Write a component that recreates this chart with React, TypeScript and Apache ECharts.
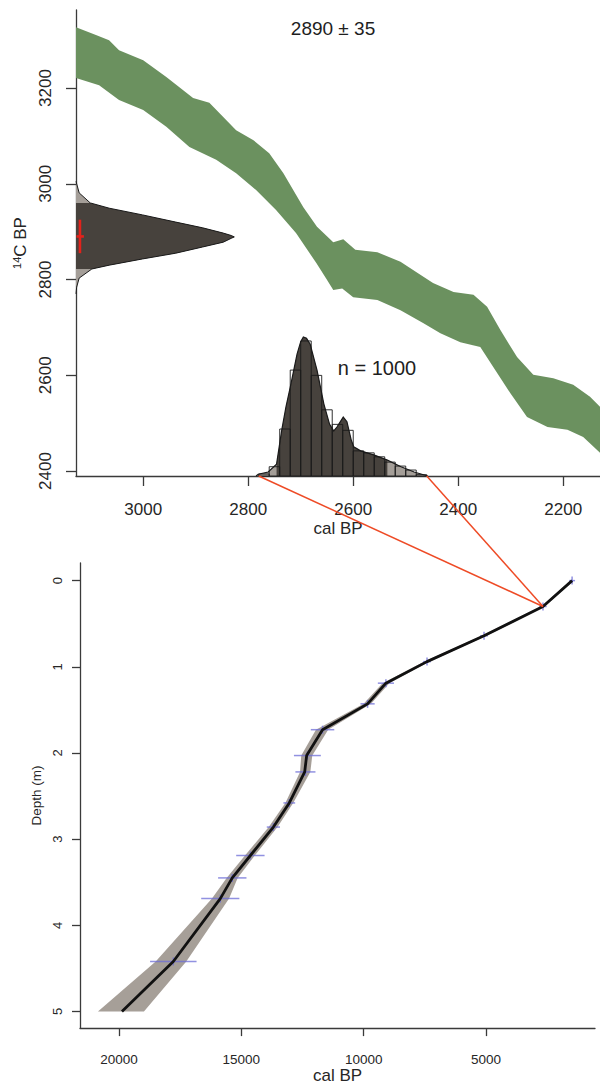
import React, { useEffect, useRef } from 'react';
import * as echarts from 'echarts';

// ---------- top panel: calibration ----------
const titleText = '2890 ± 35';
const nText = 'n = 1000';
const c14Mean = 2890;
const c14Sd = 35;

// calibration curve band: upper edge and lower edge (cal BP, 14C BP)
const upperCal = [3128, 3090, 3065, 3046, 3000, 2956, 2905, 2874, 2823, 2790, 2760, 2733, 2695, 2669, 2638, 2619, 2596, 2554, 2510, 2478, 2448, 2409, 2371, 2345, 2320, 2288, 2257, 2219, 2181, 2149, 2130];
const upperC14 = [3327, 3311, 3300, 3279, 3258, 3223, 3179, 3169, 3112, 3091, 3064, 3022, 2951, 2910, 2878, 2884, 2862, 2857, 2837, 2814, 2793, 2774, 2768, 2743, 2695, 2638, 2601, 2594, 2580, 2555, 2534];
const lowerCal = [3128, 3084, 3046, 3000, 2956, 2912, 2861, 2823, 2785, 2747, 2709, 2670, 2651, 2638, 2621, 2600, 2554, 2510, 2467, 2434, 2396, 2358, 2333, 2301, 2269, 2230, 2192, 2162, 2130];
const lowerC14 = [3221, 3206, 3175, 3154, 3119, 3077, 3050, 3022, 2987, 2945, 2897, 2834, 2801, 2778, 2781, 2763, 2757, 2736, 2709, 2688, 2669, 2659, 2617, 2563, 2513, 2492, 2486, 2471, 2438];

// 14C date density (14C BP, relative density)
const c14Age = [3005, 2981, 2960, 2949, 2935, 2920, 2908, 2897, 2892, 2889, 2886, 2878, 2868, 2855, 2843, 2830, 2822, 2803, 2784, 2770];
const c14Dens = [0, 0.02, 0.09, 0.21, 0.42, 0.63, 0.8, 0.93, 0.98, 1.0, 0.98, 0.93, 0.8, 0.63, 0.42, 0.21, 0.1, 0.02, 0.004, 0];
const c14DarkRange = [2822, 2960];

// calibrated histogram (bin older edge, counts), bin width 20 yr
const histBins = [2780, 2760, 2740, 2720, 2700, 2680, 2660, 2640, 2620, 2600, 2580, 2560, 2540, 2520, 2500, 2480];
const histCounts = [3, 14, 71, 160, 204, 152, 100, 78, 69, 38, 35, 29, 21, 15, 9, 2];
const histBinWidth = 20;

// smoothed calibrated density (cal BP, count scale)
const calDensAge = [2785, 2781, 2762, 2746, 2736, 2728, 2720, 2707, 2700, 2695, 2689, 2682, 2669, 2656, 2645, 2637, 2631, 2619, 2612, 2604, 2599, 2586, 2561, 2535, 2509, 2484, 2458];
const calDensVal = [0, 2.6, 6, 18, 70, 105, 134, 184, 203, 210, 208, 199, 160, 109, 78, 68, 74, 89, 82, 55, 44, 38, 32, 24, 14, 6, 0];
const calDarkRange = [2535, 2746];

// ---------- bottom panel: age-depth model ----------
const dateDepth = [0, 0.3, 0.64, 0.94, 1.19, 1.43, 1.73, 2.03, 2.22, 2.58, 2.86, 3.19, 3.45, 3.69, 4.42];
const dateCal = [1480, 2670, 5080, 7410, 9090, 9840, 11680, 12300, 12380, 13040, 13690, 14630, 15370, 15860, 17780];
const dateErr = [120, 150, 160, 160, 330, 290, 480, 550, 410, 240, 270, 580, 580, 780, 950];

const modelDepth = [0, 0.3, 0.64, 0.94, 1.19, 1.43, 1.73, 2.03, 2.22, 2.58, 2.86, 3.19, 3.45, 3.69, 4.42, 5.0];
const modelCal = [1480, 2670, 5080, 7410, 9090, 9840, 11680, 12330, 12410, 13040, 13690, 14630, 15370, 15860, 17780, 19880];
const modelYoung = [1420, 2600, 4980, 7300, 8950, 9700, 11450, 12100, 12180, 12880, 13520, 14450, 15150, 15500, 17250, 18980];
const modelOld = [1540, 2740, 5180, 7520, 9230, 10000, 11950, 12550, 12600, 13200, 13880, 14850, 15600, 16200, 18500, 20860];

// tick values
const topXTicks = [3000, 2800, 2600, 2400, 2200];
const topYTicks = [2400, 2600, 2800, 3000, 3200];
const botXTicks = [20000, 15000, 10000, 5000];
const botYTicks = [0, 1, 2, 3, 4, 5];

// axis ranges
const topXRange = [2130, 3128];
const topYRange = [2389.6, 3363];
const histMax = 704;
const c14DensMax = 3.31;
const botXRange = [544, 21594];
const botYRange = [-0.2045, 5.193];

const FONT = 'Liberation Sans, Arial, Helvetica, sans-serif';
const TXT = '#262626';
const AX = '#3a3a3a';

function polygonSeries(xi: number, yi: number, pts: number[][], fill: string) {
  return {
    type: 'custom', xAxisIndex: xi, yAxisIndex: yi, silent: true,
    data: [pts[0]],
    renderItem: (_p: any, api: any) => ({
      type: 'polygon',
      shape: { points: pts.map((p) => api.coord(p)) },
      style: { fill, stroke: 'none' },
    }),
  };
}
function polylineSeries(xi: number, yi: number, pts: number[][], stroke: string, lineWidth: number) {
  return {
    type: 'custom', xAxisIndex: xi, yAxisIndex: yi, silent: true,
    data: [pts[0]],
    renderItem: (_p: any, api: any) => ({
      type: 'polyline',
      shape: { points: pts.map((p) => api.coord(p)) },
      style: { fill: 'none', stroke, lineWidth },
    }),
  };
}

function axisCommon(fontSize: number, tickLen: number, ticks: number[], margin: number, rotate = 0) {
  return {
    splitLine: { show: false },
    axisLine: { show: true, onZero: false, lineStyle: { color: AX, width: 1.3 } },
    axisTick: { show: true, length: tickLen, customValues: ticks, lineStyle: { color: AX, width: 1.3 } },
    axisLabel: {
      customValues: ticks, fontSize, margin, rotate, color: TXT, fontFamily: FONT,
      formatter: (v: number) => String(v),
    },
  };
}

export default function App() {
  const ref = useRef<HTMLDivElement>(null);
  useEffect(() => {
    if (!ref.current) return;
    const chart = echarts.init(ref.current, undefined, { renderer: 'svg' });

    const bandPts = [
      ...upperCal.map((c, i) => [c, upperC14[i]]),
      ...lowerCal.map((c, i) => [c, lowerC14[i]]).reverse(),
    ];
    const c14Pts = c14Age.map((a, i) => [c14Dens[i], a]);
    const c14Dark = c14Pts.filter((p) => p[1] >= c14DarkRange[0] && p[1] <= c14DarkRange[1]);
    const c14DarkPts = [[0, c14Dark[0][1]], ...c14Dark, [0, c14Dark[c14Dark.length - 1][1]]];
    const calPts = calDensAge.map((a, i) => [a, calDensVal[i]]);
    const calDark = calPts.filter((p) => p[0] >= calDarkRange[0] && p[0] <= calDarkRange[1]);
    const calDarkPts = [[calDark[0][0], 0], ...calDark, [calDark[calDark.length - 1][0], 0]];
    const envPts = [
      ...modelDepth.map((d, i) => [modelYoung[i], d]),
      ...modelDepth.map((d, i) => [modelOld[i], d]).reverse(),
    ];

    const option: any = {
      animation: false,
      grid: [
        { left: 76, top: 10, width: 524, height: 466 },
        { left: 80, top: 563, width: 515, height: 475 },
      ],
      xAxis: [
        {
          gridIndex: 0, type: 'value', inverse: true, min: topXRange[0], max: topXRange[1],
          ...axisCommon(17, 10, topXTicks, 25),
          name: 'cal BP', nameLocation: 'middle', nameGap: 44,
          nameTextStyle: { fontSize: 17, color: TXT, fontFamily: FONT },
        },
        { gridIndex: 0, type: 'value', min: 0, max: c14DensMax, show: false },
        {
          gridIndex: 1, type: 'value', inverse: true, min: botXRange[0], max: botXRange[1],
          ...axisCommon(13.5, 8, botXTicks, 24),
          name: 'cal BP', nameLocation: 'middle', nameGap: 35,
          nameTextStyle: { fontSize: 17, color: TXT, fontFamily: FONT },
        },
      ],
      yAxis: [
        {
          gridIndex: 0, type: 'value', min: topYRange[0], max: topYRange[1],
          ...axisCommon(17, 10, topYTicks, 22, 90),
          name: '{sup|14}C BP', nameLocation: 'middle', nameGap: 37, nameRotate: 90,
          nameTextStyle: {
            fontSize: 17, color: TXT, fontFamily: FONT,
            rich: { sup: { fontSize: 11, color: TXT, fontFamily: FONT, verticalAlign: 'top', padding: [0, 0, 7, 0] } },
          },
        },
        { gridIndex: 0, type: 'value', min: 0, max: histMax, show: false },
        {
          gridIndex: 1, type: 'value', inverse: true, min: botYRange[0], max: botYRange[1],
          ...axisCommon(13, 8, botYTicks, 16, 90),
          name: 'Depth (m)', nameLocation: 'middle', nameGap: 34, nameRotate: 90,
          nameTextStyle: { fontSize: 13.5, color: TXT, fontFamily: FONT },
        },
      ],
      graphic: [
        { id: 'title', type: 'text', x: 333, y: 28, style: { text: titleText, fontSize: 19, fill: '#1e1e1e', fontFamily: FONT, textAlign: 'center', textVerticalAlign: 'middle' } },
        { id: 'nlab', type: 'text', x: 377, y: 368, style: { text: nText, fontSize: 20, fill: '#1e1e1e', fontFamily: FONT, textAlign: 'center', textVerticalAlign: 'middle' } },
      ],
      series: [
        polygonSeries(0, 0, bandPts, '#6b915f'),
        polygonSeries(1, 0, c14Pts, '#a49e98'),
        polygonSeries(1, 0, c14DarkPts, '#47423d'),
        polylineSeries(1, 0, c14Pts, '#1a1a1a', 1),
        {
          type: 'custom', xAxisIndex: 1, yAxisIndex: 0, silent: true,
          data: [[0, c14Mean]],
          renderItem: (_p: any, api: any) => {
            const top = api.coord([0.025, c14Mean + c14Sd]);
            const bot = api.coord([0.025, c14Mean - c14Sd]);
            const l = api.coord([0.003, c14Mean]);
            const r = api.coord([0.05, c14Mean]);
            const st = { stroke: '#e3221b', lineWidth: 2.6 };
            return {
              type: 'group', children: [
                { type: 'line', shape: { x1: top[0], y1: top[1], x2: bot[0], y2: bot[1] }, style: st },
                { type: 'line', shape: { x1: l[0], y1: l[1], x2: r[0], y2: r[1] }, style: st },
              ],
            };
          },
        },
        polygonSeries(0, 1, calPts, '#a49e98'),
        polygonSeries(0, 1, calDarkPts, '#47423d'),
        {
          type: 'custom', xAxisIndex: 0, yAxisIndex: 1, silent: true,
          data: histBins.map((b, i) => [b, b - histBinWidth, histCounts[i]]),
          encode: { x: [0, 1], y: 2 },
          renderItem: (_p: any, api: any) => {
            const a = api.coord([api.value(0), 0]);
            const b = api.coord([api.value(1), api.value(2)]);
            return {
              type: 'rect',
              shape: { x: Math.min(a[0], b[0]), y: b[1], width: Math.abs(a[0] - b[0]), height: a[1] - b[1] },
              style: { fill: 'none', stroke: '#1a1a1a', lineWidth: 0.9 },
            };
          },
        },
        polylineSeries(0, 1, calPts, '#1a1a1a', 1.2),
        polygonSeries(2, 2, envPts, 'rgba(150,142,134,0.85)'),
        {
          type: 'line', xAxisIndex: 2, yAxisIndex: 2, silent: true, symbol: 'none',
          data: modelDepth.map((d, i) => [modelCal[i], d]),
          lineStyle: { color: '#111', width: 2.8 },
        },
        {
          type: 'custom', xAxisIndex: 2, yAxisIndex: 2, silent: true,
          data: dateDepth.map((d, i) => [dateCal[i], d, dateErr[i]]),
          renderItem: (_p: any, api: any) => {
            const c = api.value(0), d = api.value(1), e = api.value(2);
            const l = api.coord([c + e, d]);
            const r = api.coord([c - e, d]);
            const m = api.coord([c, d]);
            const st = { stroke: 'rgba(108,108,215,0.75)', lineWidth: 1.5 };
            return {
              type: 'group', children: [
                { type: 'line', shape: { x1: l[0], y1: l[1], x2: r[0], y2: r[1] }, style: st },
                { type: 'line', shape: { x1: m[0], y1: m[1] - 4, x2: m[0], y2: m[1] + 4 }, style: st },
              ],
            };
          },
        },
      ],
    };
    chart.setOption(option);

    // connector lines from calibrated range to the dated depth
    const a = chart.convertToPixel({ xAxisIndex: 0, yAxisIndex: 0 } as any, [histBins[0], topYRange[0]]) as number[];
    const b = chart.convertToPixel({ xAxisIndex: 0, yAxisIndex: 0 } as any, [histBins[histBins.length - 1] - histBinWidth, topYRange[0]]) as number[];
    const t = chart.convertToPixel({ xAxisIndex: 2, yAxisIndex: 2 } as any, [dateCal[1], dateDepth[1]]) as number[];
    chart.setOption({
      graphic: [
        { id: 'r1', type: 'line', z: 100, shape: { x1: a[0], y1: a[1], x2: t[0], y2: t[1] }, style: { stroke: '#ee4b26', lineWidth: 1.5 } },
        { id: 'r2', type: 'line', z: 100, shape: { x1: b[0], y1: b[1], x2: t[0], y2: t[1] }, style: { stroke: '#ee4b26', lineWidth: 1.5 } },
      ],
    });

    return () => chart.dispose();
  }, []);
  return <div ref={ref} style={{ position: 'absolute', left: 0, top: 0, width: 600, height: 1085, background: '#fff' }} />;
}
